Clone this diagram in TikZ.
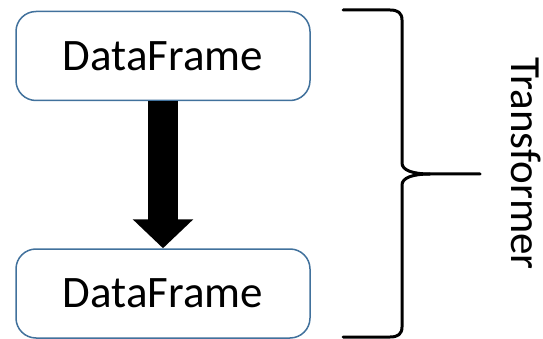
\documentclass[tikz,border=0pt]{standalone}
\usepackage{fontspec}
\setmainfont{Carlito}
\usetikzlibrary{positioning,arrows.meta}
\definecolor{frameblue}{HTML}{41719C}

\begin{document}
\begin{tikzpicture}[x=1pt, y=-1pt,
  frame/.style={draw=frameblue, line width=1.5pt, fill=white, rounded corners=20pt, minimum width=294pt, minimum height=89pt, font=\fontsize{45}{54}\selectfont},
  bigarrow/.style={line width=30pt, -{Triangle[length=29pt, width=59pt]}},
  brace/.style={line width=3pt, line join=round, line cap=round}]
  \useasboundingbox (0,0) rectangle (543,339);

  \node[frame] (inframe) at (163,56) {DataFrame};
  \node[frame] (outframe) at (163,293.5) {DataFrame};
  \draw[bigarrow] (inframe) -- (outframe);

  % curly brace on the right, tip pointing at the label
  \coordinate (bracetip) at (480,174);
  \draw[brace] (343,10) -- (390,10) .. controls (398,10) and (402,13) .. (402,20)
    -- (402,163) .. controls (402,170) and (412,174) .. (430,174) -- (bracetip);
  \draw[brace] (430,174) .. controls (412,174) and (402,178) .. (402,185)
    -- (402,327) .. controls (402,334) and (398,337) .. (390,337) -- (343,337);
  \node[rotate=-90, anchor=base, font=\fontsize{43}{52}\selectfont] (tlabel) at (511,163.5) {Transformer};
\end{tikzpicture}
\end{document}
